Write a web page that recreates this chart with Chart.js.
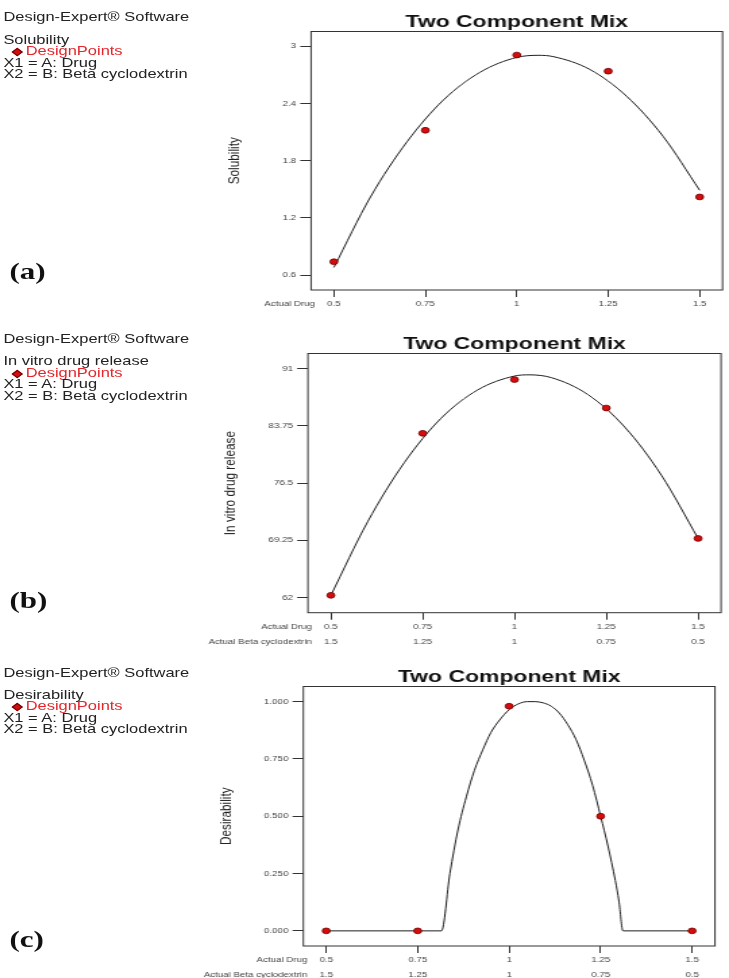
<!DOCTYPE html>
<html>
<head>
<meta charset="utf-8">
<script src="https://cdn.jsdelivr.net/npm/chart.js@4.4.1/dist/chart.umd.min.js"></script>
<style>
  html, body { margin: 0; padding: 0; background: #fff; }
  body { width: 729px; height: 978px; overflow: hidden; position: relative; }
  /* the whole sheet is printed wide: draw at 540px and stretch */
  #sheet { position: absolute; left: 0; top: 0; width: 540px; height: 978px;
           transform: scaleX(1.35); transform-origin: 0 0;
           font-family: "Liberation Sans", Arial, sans-serif; color: #222; }
  .note { position: absolute; left: 2.5px; font-size: 12.2px; line-height: 12px; white-space: nowrap; }
  .pts { left: 19px; color: #e3262b; }
  .diamond { position: absolute; left: 10px; width: 3.6px; height: 3.6px; background: #d10f0f;
             border: 0.5px solid #700; transform: rotate(45deg); }
  .tag { position: absolute; left: 7px; font-family: "Liberation Serif", "Times New Roman", serif;
         font-weight: bold; font-size: 23px; line-height: 24px; color: #111; }
  canvas { position: absolute; left: 0; }
</style>
</head>
<body>
<div id="sheet">
  <div class="note" style="top:11px">Design-Expert® Software</div>
  <div class="note" style="top:34px">Solubility</div>
  <div class="diamond" style="top:49px"></div>
  <div class="note pts" style="top:45px">DesignPoints</div>
  <div class="note" style="top:56.5px">X1 = A: Drug</div>
  <div class="note" style="top:67.5px">X2 = B: Beta cyclodextrin</div>
  <div class="tag" style="top:260px">(a)</div>

  <div class="note" style="top:333px">Design-Expert® Software</div>
  <div class="note" style="top:355px">In vitro drug release</div>
  <div class="diamond" style="top:371px"></div>
  <div class="note pts" style="top:367px">DesignPoints</div>
  <div class="note" style="top:378px">X1 = A: Drug</div>
  <div class="note" style="top:390px">X2 = B: Beta cyclodextrin</div>
  <div class="tag" style="top:589px">(b)</div>

  <div class="note" style="top:667px">Design-Expert® Software</div>
  <div class="note" style="top:689px">Desirability</div>
  <div class="diamond" style="top:704px"></div>
  <div class="note pts" style="top:700px">DesignPoints</div>
  <div class="note" style="top:712px">X1 = A: Drug</div>
  <div class="note" style="top:723px">X2 = B: Beta cyclodextrin</div>
  <div class="tag" style="top:928px">(c)</div>

  <canvas id="solubility" width="540" height="320" style="top:0px"></canvas>
  <canvas id="release" width="540" height="333" style="top:322px"></canvas>
  <canvas id="desire" width="540" height="323" style="top:655px"></canvas>
</div>

<script>
const FONT = '"Liberation Sans", Arial, sans-serif';
Chart.defaults.font.family = FONT;

// actual amounts of the two components
const drugTicks = [0.5, 0.75, 1, 1.25, 1.5];
const drugLabels = ['0.5', '0.75', '1', '1.25', '1.5'];
const betaLabels = ['1.5', '1.25', '1', '0.75', '0.5'];

// design points
const solubility = [0.74, 2.12, 2.91, 2.74, 1.42];
const release = [62.3, 82.8, 89.6, 86.0, 69.5];
const desirability = [0, 0, 0.98, 0.5, 0];

// model traces
const solFitDrug = [0.5, 0.6, 0.7, 0.8, 0.9, 1.0, 1.06, 1.1, 1.2, 1.3, 1.4, 1.5];
const solFit = [0.68, 1.42, 2.0, 2.44, 2.73, 2.885, 2.907, 2.893, 2.758, 2.478, 2.056, 1.49];
const relFitDrug = [0.5, 0.6, 0.7, 0.8, 0.9, 1.0, 1.04, 1.1, 1.2, 1.3, 1.4, 1.5];
const relFit = [62.3, 71.6, 79.1, 84.7, 88.3, 90.05, 90.2, 89.85, 87.7, 83.6, 77.5, 69.5];
const desFitDrug = [0.5, 0.75, 0.815, 0.838, 0.86, 0.883, 0.905, 0.928, 0.95, 0.974, 1.0, 1.025,
                    1.05, 1.07, 1.092, 1.115, 1.137, 1.16, 1.183, 1.205, 1.228, 1.25, 1.27, 1.29,
                    1.3, 1.311, 1.5];
const desFit = [0, 0, 0, 0.25, 0.44, 0.585, 0.7, 0.79, 0.865, 0.92, 0.965, 0.99,
                1.0, 1.0, 0.995, 0.98, 0.95, 0.9, 0.834, 0.745, 0.635, 0.5, 0.37, 0.22,
                0.13, 0, 0];

// response axis ticks
const solTicks = [0.6, 1.2, 1.8, 2.4, 3];
const solLabels = ['0.6', '1.2', '1.8', '2.4', '3'];
const relTicks = [62, 69.25, 76.5, 83.75, 91];
const relLabels = ['62', '69.25', '76.5', '83.75', '91'];
const desTicks = [0, 0.25, 0.5, 0.75, 1];
const desLabels = ['0.000', '0.250', '0.500', '0.750', '1.000'];

const TICK_LEN = 7;
const ROW = 14.6;

// box around the plot, rotated response name, factor row names
const frame = {
  id: 'frame',
  afterDraw(chart, args, opts) {
    const { ctx, chartArea: a } = chart;
    ctx.save();
    ctx.strokeStyle = '#333';
    ctx.lineWidth = 1;
    ctx.strokeRect(a.left, a.top, a.right - a.left, a.bottom - a.top);

    ctx.fillStyle = '#222';
    ctx.font = '11.8px ' + FONT;
    ctx.textAlign = 'center';
    ctx.textBaseline = 'middle';
    ctx.translate(a.left - 57, (a.top + a.bottom) / 2);
    ctx.rotate(-Math.PI / 2);
    ctx.fillText(opts.response, 0, 0);
    ctx.restore();

    const x = chart.scales.x;
    ctx.save();
    ctx.fillStyle = '#444';
    ctx.font = '7.2px ' + FONT;
    ctx.textAlign = 'right';
    ctx.textBaseline = 'middle';
    const left = x.getPixelForValue(drugTicks[0]) - 14;
    opts.rows.forEach((name, i) => {
      ctx.fillText(name, left, x.top + TICK_LEN + ROW * (i + 0.5));
    });
    ctx.restore();
  }
};

function panel(id, cfg) {
  const twoRows = cfg.rows.length > 1;
  new Chart(document.getElementById(id), {
    type: 'scatter',
    data: {
      datasets: [
        {
          data: cfg.points.map((v, i) => ({ x: drugTicks[i], y: v })),
          pointRadius: 2.9,
          pointBackgroundColor: '#d80c0c',
          pointBorderColor: '#6b0000',
          pointBorderWidth: 0.8,
          showLine: false
        },
        {
          data: cfg.fitX.map((x, i) => ({ x: x, y: cfg.fitY[i] })),
          showLine: true,
          pointRadius: 0,
          borderColor: '#1e1e1e',
          borderWidth: 1,
          cubicInterpolationMode: 'monotone'
        }
      ]
    },
    options: {
      responsive: false,
      animation: false,
      events: [],
      layout: { padding: { left: 0, right: cfg.padRight, top: 0, bottom: 0 } },
      plugins: {
        legend: { display: false },
        tooltip: { enabled: false },
        title: {
          display: true,
          text: 'Two Component Mix',
          fullSize: false,
          color: '#111',
          font: { size: 17, weight: 'bold', lineHeight: 1.1 },
          padding: { top: 12.8, bottom: 0 }
        },
        frame: { response: cfg.response, rows: cfg.rows }
      },
      scales: {
        x: {
          type: 'linear',
          min: 0.4375,
          max: 1.5625,
          border: { display: false },
          grid: { drawOnChartArea: false, tickLength: TICK_LEN, color: '#333' },
          afterBuildTicks: s => { s.ticks = drugTicks.map(v => ({ value: v })); },
          afterFit: s => { s.height = cfg.xHeight; },
          ticks: {
            padding: 0,
            color: '#444',
            maxRotation: 0,
            autoSkip: false,
            font: { size: 7.2, lineHeight: ROW / 7.2 },
            callback: (v, i) => twoRows ? [drugLabels[i], betaLabels[i]] : drugLabels[i]
          }
        },
        y: {
          type: 'linear',
          min: cfg.yMin,
          max: cfg.yMax,
          border: { display: false },
          grid: { drawOnChartArea: false, tickLength: 8, color: '#333' },
          afterBuildTicks: s => { s.ticks = cfg.yTicks.map(v => ({ value: v })); },
          afterFit: s => { s.width = cfg.boxLeft; },
          ticks: {
            padding: 3,
            color: '#444',
            autoSkip: false,
            font: { size: 7.3 },
            callback: (v, i) => cfg.yLabels[i]
          }
        }
      }
    },
    plugins: [frame]
  });
}

panel('solubility', {
  points: solubility, fitX: solFitDrug, fitY: solFit,
  yTicks: solTicks, yLabels: solLabels, yMin: 0.443, yMax: 3.157,
  response: 'Solubility', rows: ['Actual Drug'],
  boxLeft: 230.4, padRight: 3.7, xHeight: 30
});

panel('release', {
  points: release, fitX: relFitDrug, fitY: relFit,
  yTicks: relTicks, yLabels: relLabels, yMin: 60.1, yMax: 92.9,
  response: 'In vitro drug release', rows: ['Actual Drug', 'Actual Beta cyclodextrin'],
  boxLeft: 228.1, padRight: 5.9, xHeight: 42.3
});

panel('desire', {
  points: desirability, fitX: desFitDrug, fitY: desFit,
  yTicks: desTicks, yLabels: desLabels, yMin: -0.066, yMax: 1.066,
  response: 'Desirability', rows: ['Actual Drug', 'Actual Beta cyclodextrin'],
  boxLeft: 224.7, padRight: 10.4, xHeight: 32
});
</script>
</body>
</html>
